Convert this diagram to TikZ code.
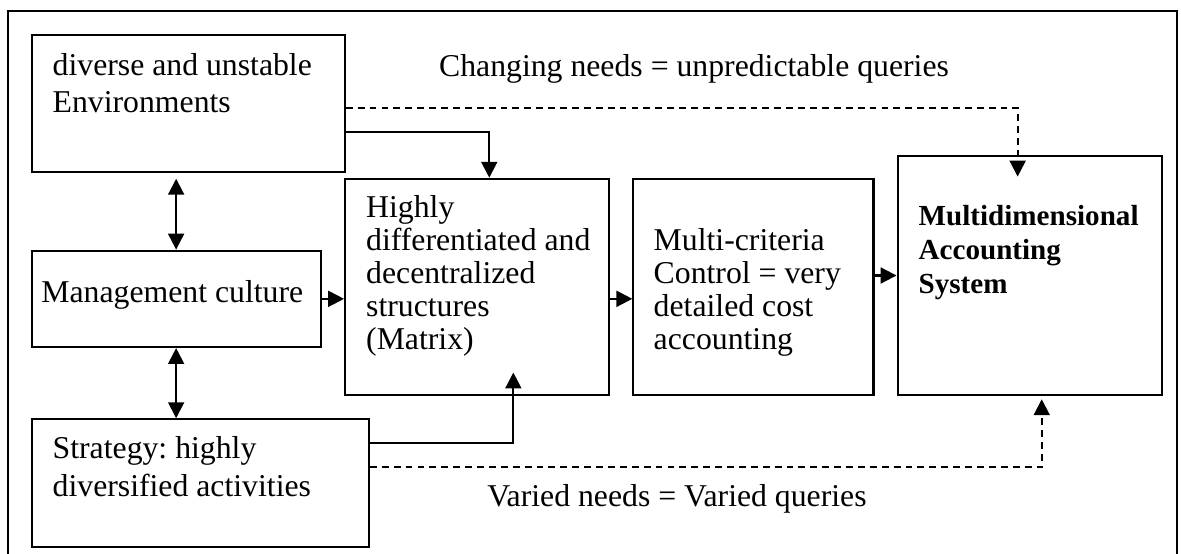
\documentclass[tikz,border=0pt]{standalone}
\usepackage{fontspec}
\setmainfont{Liberation Serif}
\usetikzlibrary{arrows.meta,positioning}
\frenchspacing

\begin{document}
\begin{tikzpicture}[
    > = {Triangle[length=6pt,width=6pt]}, % arrow head style
    line width = 0.8pt, % line style
    node distance = 3.67cm % distance between boxes
  ]

  \tikzstyle{box}=[rectangle,draw=black,inner sep=0pt]
  \tikzstyle{txt}=[anchor=north west,align=left,inner sep=0pt]
  \tikzstyle{query}=[dash pattern=on 2.6pt off 1.9pt]

  \useasboundingbox (0,0) rectangle (15.69,-7.35);
  \draw (0.11,-0.15) rectangle (15.64,-7.6);

  % left column
  \node[box, minimum width=4.16cm, minimum height=1.82cm] (env) at (2.50,-1.38) {};
  \node[box, minimum width=3.84cm, minimum height=1.28cm] (mc) at (2.34,-3.97) {};
  \node[box, minimum width=4.48cm, minimum height=1.70cm] (strat) at (2.66,-6.42) {};

  % main chain
  \node[box, minimum width=3.51cm, minimum height=2.87cm] (hd) at (6.34,-3.81) {};
  \node[box, minimum width=3.19cm, minimum height=2.87cm] (mcc) [right of=hd] {};
  \node[box, minimum width=3.51cm, minimum height=3.18cm] (mas) [right of=mcc, yshift=0.15cm] {};

  \node[txt, font=\fontsize{12}{14}\selectfont] (envtxt) at ([xshift=0.28cm,yshift=-0.24cm]env.north west)
    {diverse and unstable\\Environments};
  \node[txt, font=\fontsize{12}{12.5}\selectfont] (mctxt) at ([xshift=0.13cm,yshift=-0.39cm]mc.north west)
    {Management culture};
  \node[txt, font=\fontsize{12}{14.4}\selectfont] (strattxt) at ([xshift=0.28cm,yshift=-0.23cm]strat.north west)
    {Strategy: highly\\diversified activities};
  \node[txt, font=\fontsize{12}{12.5}\selectfont] (hdtxt) at ([xshift=0.28cm,yshift=-0.22cm]hd.north west)
    {Highly\\differentiated and\\decentralized\\structures\\(Matrix)};
  \node[txt, font=\fontsize{12}{12.5}\selectfont] (mcctxt) at ([xshift=0.27cm,yshift=-0.66cm]mcc.north west)
    {Multi-criteria\\Control = very\\detailed cost\\accounting};
  \node[txt, font=\fontsize{11}{12.9}\selectfont\bfseries] (mastxt) at ([xshift=0.28cm,yshift=-0.66cm]mas.north west)
    {Multidimensional\\Accounting\\System};

  \node[anchor=base west, inner sep=0pt, font=\fontsize{12}{12.5}\selectfont] (changing) at (5.82,-1.01)
    {Changing needs = unpredictable queries};
  \node[anchor=base west, inner sep=0pt, font=\fontsize{12}{12.5}\selectfont] (varied) at (6.46,-6.73)
    {Varied needs = Varied queries};

  % solid links
  \draw[<->, shorten <=2pt] (env.south -| mc.north) -- (mc.north);
  \draw[<->] (mc.south) -- (mc.south |- strat.north);
  \draw[->] (mc.east) -- (mc.east -| hd.west);
  \draw[->] ([yshift=-0.37cm]env.east) -| ([xshift=0.16cm]hd.north);
  \draw[->] ([yshift=0.53cm]strat.east) -| ([xshift=0.48cm,yshift=0.31cm]hd.south);
  \draw[->] ([yshift=-0.16cm]hd.east) -- ([yshift=-0.16cm]hd.east -| mcc.west);
  \draw[->] (mas.west -| mcc.east) -- (mas.west);

  % dashed query links
  \draw[->, query] ([yshift=-0.05cm]env.east) -| ([xshift=-0.16cm,yshift=-0.29cm]mas.north);
  \draw[->, query] ([yshift=0.21cm]strat.east) -| ([xshift=0.16cm,yshift=-0.04cm]mas.south);

\end{tikzpicture}
\end{document}
